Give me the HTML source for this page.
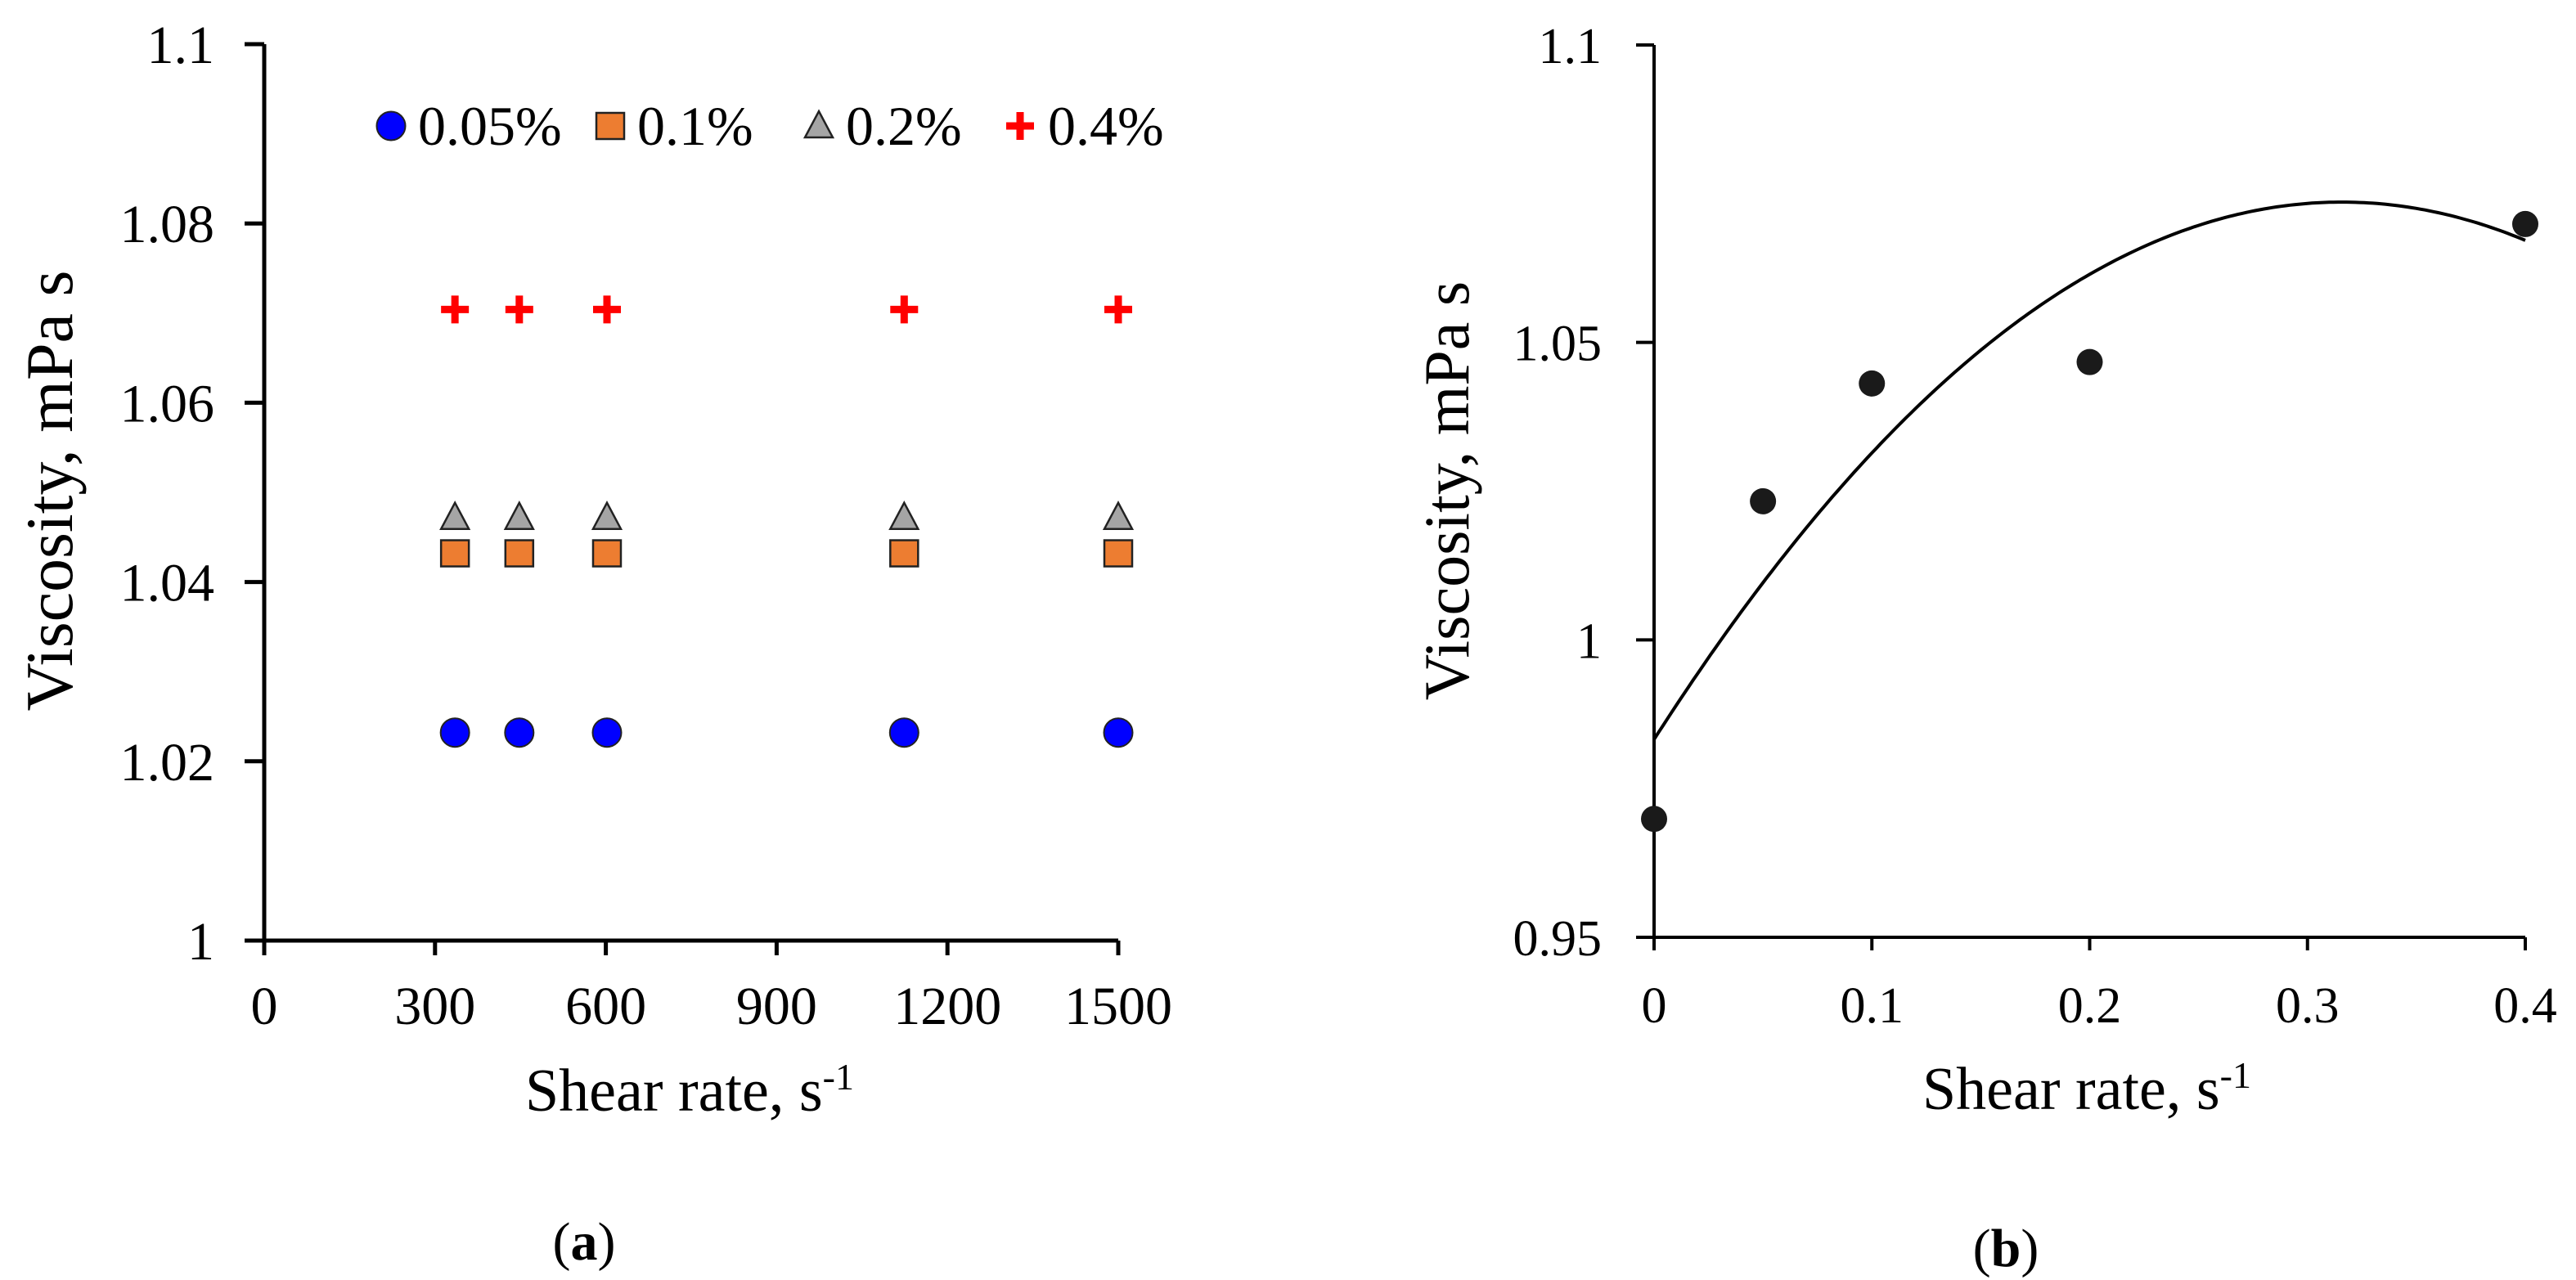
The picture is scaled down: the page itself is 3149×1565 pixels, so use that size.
<!DOCTYPE html>
<html><head><meta charset="utf-8"><style>
html,body{margin:0;padding:0;background:#fff;}
svg{display:block;font-family:"Liberation Serif","Times New Roman",serif;}
</style></head><body>
<svg id="fig" width="3149" height="1565" viewBox="0 0 3149 1565" xmlns="http://www.w3.org/2000/svg">
<g id="chartA"></g>
<g id="chartB"></g>
</svg>
<script>
// ----- Chart (a) data -----
const aShear = [335, 448, 602, 1124, 1500];
const aSeriesNames = ["0.05%", "0.1%", "0.2%", "0.4%"];
const aVisc005 = [1.0232, 1.0232, 1.0232, 1.0232, 1.0232];
const aVisc01 = [1.0432, 1.0432, 1.0432, 1.0432, 1.0432];
const aVisc02 = [1.0472, 1.0472, 1.0472, 1.0472, 1.0472];
const aVisc04 = [1.0704, 1.0704, 1.0704, 1.0704, 1.0704];
const aXTicks = [0, 300, 600, 900, 1200, 1500];
const aYTicks = [1, 1.02, 1.04, 1.06, 1.08, 1.1];
const aYLabels = ["1", "1.02", "1.04", "1.06", "1.08", "1.1"];
// ----- Chart (b) data -----
const bConc = [0, 0.05, 0.1, 0.2, 0.4];
const bVisc = [0.9699, 1.0233, 1.0431, 1.0467, 1.0699];
const bXTicks = [0, 0.1, 0.2, 0.3, 0.4];
const bXLabels = ["0", "0.1", "0.2", "0.3", "0.4"];
const bYTicks = [0.95, 1, 1.05, 1.1];
const bYLabels = ["0.95", "1", "1.05", "1.1"];

const NS = "http://www.w3.org/2000/svg";
function mk(parent, tag, attrs, text) {
  const e = document.createElementNS(NS, tag);
  for (const k in attrs) e.setAttribute(k, attrs[k]);
  if (text !== undefined) e.textContent = text;
  parent.appendChild(e);
  return e;
}

// ===== Chart A =====
const A = document.getElementById("chartA");
const aX0 = 323, aX1 = 1367, aY0 = 1150, aY1 = 54;
const ax = v => aX0 + (v - 0) / 1500 * (aX1 - aX0);
const ay = v => aY0 - (v - 1) / 0.1 * (aY0 - aY1);

let e = mk(A, "line", {x1: aX0, y1: aY1, x2: aX0, y2: aY0 + 2, stroke: "#000", "stroke-width": 5});


e = mk(A, "line", {x1: aX0 - 24, y1: aY0, x2: aX1, y2: aY0, stroke: "#000", "stroke-width": 5});


aYTicks.forEach((t, i) => {
  const y = ay(t);
  let tk = mk(A, "line", {x1: aX0 - 24, y1: y, x2: aX0, y2: y, stroke: "#000", "stroke-width": 5});
  
  
  let lb = mk(A, "text", {x: 262, y: y + 23, "text-anchor": "end", "font-size": 66}, aYLabels[i]);
  
  
});
aXTicks.forEach(t => {
  const x = ax(t);
  let tk = mk(A, "line", {x1: x, y1: aY0, x2: x, y2: aY0 + 18, stroke: "#000", "stroke-width": 5});
  
  
  let lb = mk(A, "text", {x: x, y: 1252, "text-anchor": "middle", "font-size": 66}, String(t));
  
  
});
e = mk(A, "text", {x: 843, y: 1358, "text-anchor": "middle", "font-size": 74});


e.innerHTML = 'Shear rate, s<tspan dy="-26" font-size="46">-1</tspan>';
e = mk(A, "text", {x: 0, y: 0, "text-anchor": "middle", "font-size": 82, transform: "translate(88,600) rotate(-90)"}, "Viscosity,  mPa s");


e = mk(A, "text", {x: 714, y: 1540, "text-anchor": "middle", "font-size": 66});


e.innerHTML = '(<tspan font-weight="bold">a</tspan>)';

function circle(g, x, y) { return mk(g, "circle", {cx: x, cy: y, r: 17.5, fill: "#0000ff", stroke: "#222", "stroke-width": 2}); }
function square(g, x, y) { return mk(g, "rect", {x: x - 17, y: y - 16, width: 34, height: 32, fill: "#ed7d31", stroke: "#222", "stroke-width": 2.5}); }
function tri(g, x, y) { return mk(g, "polygon", {points: `${x},${y - 18} ${x + 17},${y + 14} ${x - 17},${y + 14}`, fill: "#a5a5a5", stroke: "#222", "stroke-width": 2.5}); }
function cross(g, x, y) { return mk(g, "path", {d: `M${x - 17},${y}H${x + 17}M${x},${y - 17}V${y + 17}`, stroke: "#ff0000", "stroke-width": 9, fill: "none"}); }
const makers = [circle, square, tri, cross];
const aSeries = [aVisc005, aVisc01, aVisc02, aVisc04];
const markNames = ['point-0-05pct', 'point-0-1pct', 'point-0-2pct', 'point-0-4pct'];
aSeries.forEach((vals, si) => {
  const g = mk(A, "g", {});
  
  
  vals.forEach((v, i) => {
    const m = makers[si](g, ax(aShear[i]), ay(v));
    
    
  });
});
// legend
const legX = [478, 746, 1001, 1247];
const legTX = [511, 779, 1034, 1281];
const LG = mk(A, "g", {});


aSeriesNames.forEach((n, i) => {
  const m = makers[i](LG, legX[i], 154);
  
  
  const t = mk(LG, "text", {x: legTX[i], y: 177, "font-size": 68}, n);
  
  
});

// ===== Chart B =====
const B = document.getElementById("chartB");
const bX0 = 2022, bX1 = 3087, bY0 = 1146, bY1 = 55;
const bx = v => bX0 + v / 0.4 * (bX1 - bX0);
const by = v => bY0 - (v - 0.95) / 0.15 * (bY0 - bY1);

e = mk(B, "line", {x1: bX0, y1: bY1, x2: bX0, y2: bY0 + 2, stroke: "#000", "stroke-width": 4});


e = mk(B, "line", {x1: bX0 - 22, y1: bY0, x2: bX1, y2: bY0, stroke: "#000", "stroke-width": 4});


bYTicks.forEach((t, i) => {
  const y = by(t);
  let tk = mk(B, "line", {x1: bX0 - 22, y1: y, x2: bX0, y2: y, stroke: "#000", "stroke-width": 4});
  
  
  let lb = mk(B, "text", {x: 1958, y: y + 22, "text-anchor": "end", "font-size": 62}, bYLabels[i]);
  
  
});
bXTicks.forEach((t, i) => {
  const x = bx(t);
  let tk = mk(B, "line", {x1: x, y1: bY0, x2: x, y2: bY0 + 16, stroke: "#000", "stroke-width": 4});
  
  
  let lb = mk(B, "text", {x: x, y: 1250, "text-anchor": "middle", "font-size": 62}, bXLabels[i]);
  
  
});
e = mk(B, "text", {x: 2551, y: 1356, "text-anchor": "middle", "font-size": 74});


e.innerHTML = 'Shear rate, s<tspan dy="-26" font-size="46">-1</tspan>';
e = mk(B, "text", {x: 0, y: 0, "text-anchor": "middle", "font-size": 78, transform: "translate(1795,600) rotate(-90)"}, "Viscosity,  mPa s");


e = mk(B, "text", {x: 2452, y: 1548, "text-anchor": "middle", "font-size": 66});


e.innerHTML = '(<tspan font-weight="bold">b</tspan>)';

// quadratic least-squares trendline from data
function quadFit(xs, ys) {
  let S = [0,0,0,0,0], T = [0,0,0];
  xs.forEach((x, i) => { for (let k = 0; k < 5; k++) S[k] += Math.pow(x, k); for (let k = 0; k < 3; k++) T[k] += ys[i] * Math.pow(x, k); });
  const M = [[S[0],S[1],S[2],T[0]],[S[1],S[2],S[3],T[1]],[S[2],S[3],S[4],T[2]]];
  for (let i = 0; i < 3; i++) { for (let j = i + 1; j < 3; j++) { const f = M[j][i] / M[i][i]; for (let k = i; k < 4; k++) M[j][k] -= f * M[i][k]; } }
  const c = [0,0,0];
  for (let i = 2; i >= 0; i--) { let s = M[i][3]; for (let k = i + 1; k < 3; k++) s -= M[i][k] * c[k]; c[i] = s / M[i][i]; }
  return c;
}
const coef = quadFit(bConc, bVisc);
let d = "";
const xmax = Math.max(...bConc);
for (let i = 0; i <= 200; i++) {
  const xv = xmax * i / 200;
  const yv = coef[0] + coef[1] * xv + coef[2] * xv * xv;
  d += (i ? "L" : "M") + bx(xv).toFixed(1) + "," + by(yv).toFixed(1);
}
e = mk(B, "path", {d: d, fill: "none", stroke: "#000", "stroke-width": 4});


bConc.forEach((c, i) => {
  const p = mk(B, "circle", {cx: bx(c), cy: by(bVisc[i]), r: 16, fill: "#1a1a1a"});
  
  
});
</script>
</body></html>
